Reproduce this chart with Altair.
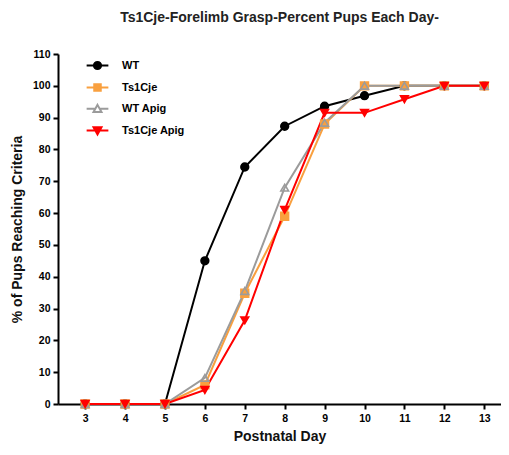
import altair as alt
import pandas as pd

days = [3, 4, 5, 6, 7, 8, 9, 10, 11, 12, 13]
groups = ["WT", "Ts1Cje", "WT Apig", "Ts1Cje Apig"]
wt = [0, 0, 0, 45, 74.5, 87.3, 93.6, 96.9, 100, 100, 100]
ts1cje = [0, 0, 0, 6, 34.8, 59, 88, 100, 100, 100, 100]
wt_apig = [0, 0, 0, 8.2, 35.5, 68, 88.4, 100, 100, 100, 100]
ts1cje_apig = [0, 0, 0, 4.4, 26.3, 61, 91.5, 91.5, 95.8, 100, 100]
y_ticks = [0, 10, 20, 30, 40, 50, 60, 70, 80, 90, 100, 110]

colors = ["#000000", "#F9A03F", "#9B9B9B", "#FF0000"]
fills = ["#000000", "#F9A03F", "transparent", "#FF0000"]
point_shapes = ["circle", "square", "triangle-up", "triangle-down"]
legend_shapes = [
    "M-1.5,0H1.5M-0.5,0a0.5,0.5 0 1,0 1,0a0.5,0.5 0 1,0 -1,0Z",
    "M-1.5,0H1.5M-0.45,-0.45H0.45V0.45H-0.45Z",
    "M-1.5,0.05H-0.3M0.3,0.05H1.5M0,-0.5L0.55,0.5H-0.55Z",
    "M-1.5,0H1.5M-0.55,-0.45H0.55L0,0.55Z",
]

rows = []
for g, vals in zip(groups, [wt, ts1cje, wt_apig, ts1cje_apig]):
    for d, v in zip(days, vals):
        rows.append({"Day": d, "Pct": v, "Group": g})
df = pd.DataFrame(rows)

FONT = "Liberation Sans"

x = alt.X(
    "Day:Q",
    scale=alt.Scale(domain=[2.32, 13.42], nice=False, zero=False),
    axis=alt.Axis(values=days, title="Postnatal Day", format="d", grid=False,
                  labelPadding=4, titlePadding=6),
)
y = alt.Y(
    "Pct:Q",
    scale=alt.Scale(domain=[0, 110], nice=False),
    axis=alt.Axis(values=y_ticks, title="% of Pups Reaching Criteria", grid=False,
                  labelPadding=3, titlePadding=8),
)

lines = alt.Chart(df).mark_line(strokeWidth=2).encode(
    x=x,
    y=y,
    color=alt.Color("Group:N", scale=alt.Scale(domain=groups, range=colors), legend=None),
)

points = alt.Chart(df).mark_point(size=60, strokeWidth=1.6, opacity=1).encode(
    x=x,
    y=y,
    shape=alt.Shape("Group:N", scale=alt.Scale(domain=groups, range=point_shapes), legend=None),
    fill=alt.Fill("Group:N", scale=alt.Scale(domain=groups, range=fills), legend=None),
    stroke=alt.Stroke("Group:N", scale=alt.Scale(domain=groups, range=colors), legend=None),
)

leg = alt.Legend(
    orient="none", legendX=31, legendY=3, title=None, padding=0,
    labelFont=FONT, labelFontSize=11, labelFontWeight="bold", labelColor="black",
    symbolSize=210, symbolStrokeWidth=2, rowPadding=5, labelOffset=16,
)

legend_layer = alt.Chart(df).transform_filter("datum.Day < 0").mark_point(
    filled=True, opacity=1
).encode(
    shape=alt.Shape("Group:N", scale=alt.Scale(domain=groups, range=legend_shapes), legend=leg),
    fill=alt.Fill("Group:N", scale=alt.Scale(domain=groups, range=fills), legend=leg),
    stroke=alt.Stroke("Group:N", scale=alt.Scale(domain=groups, range=colors), legend=leg),
)

chart = alt.layer(lines, points, legend_layer).resolve_scale(
    color="independent", shape="independent", fill="independent", stroke="independent"
).properties(
    width=443,
    height=350,
    autosize=alt.AutoSizeParams(type="none"),
    padding={"left": 50, "top": 46, "right": 0, "bottom": 43},
    title=alt.TitleParams(
        "Ts1Cje-Forelimb Grasp-Percent Pups Each Day-",
        font=FONT, fontSize=14, fontWeight="bold", color="#222222",
        anchor="middle", offset=24, dx=0,
    ),
).configure_view(stroke=None).configure_axis(
    domainColor="black", domainWidth=2, tickColor="black", tickWidth=2, tickSize=5,
    labelFont=FONT, labelFontSize=10.5, labelFontWeight="bold", labelColor="black",
    titleFont=FONT, titleFontSize=14, titleFontWeight="bold", titleColor="#111111",
)

chart.save("out.html", embed_options={"renderer": "svg", "actions": False})
